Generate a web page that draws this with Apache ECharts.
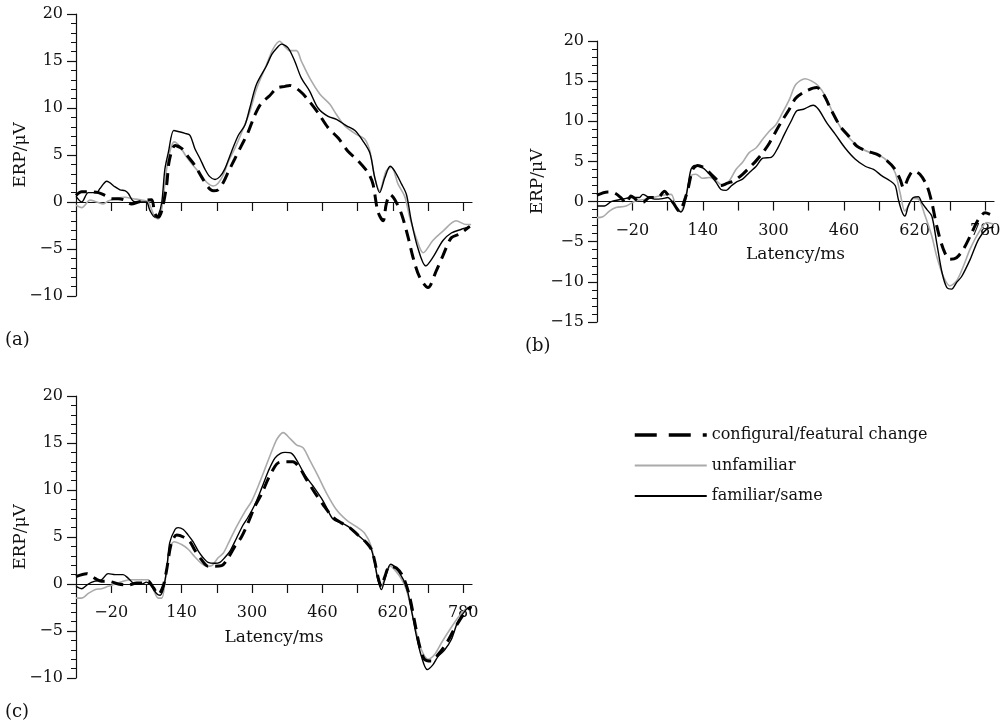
<!DOCTYPE html>
<html>
<head>
<meta charset="utf-8">
<script src="https://cdn.jsdelivr.net/npm/echarts@6/dist/echarts.min.js"></script>
<style>html,body{margin:0;padding:0;background:#fff;}#chart{width:1008px;height:725px;}</style>
</head>
<body>
<div id="chart"></div>
<script>
// ---- data: [latency ms, ERP µV] ----
const seriesNames = ['configural/featural change', 'unfamiliar', 'familiar/same'];
const xTickValues = [-20, 60, 140, 220, 300, 380, 460, 540, 620, 700, 780];
const xLabelValues = [-20, 140, 300, 460, 620, 780];

const aConfigural = [[-100,0.7],[-87,1.1],[-72,1.1],[-49,1.0],[-34,0.7],[-19,0.35],[-4,0.35],[11,0.2],[26,-0.2],[42,0],[60,0.2],[72,0.25],[79,-1.2],[87,-1.6],[95,-0.9],[106,1.8],[112,4.4],[125,6.0],[140,5.7],[155,4.8],[170,3.9],[185,2.7],[200,1.6],[212,1.2],[223,1.3],[235,2.1],[246,3.2],[261,4.6],[276,6.0],[291,7.4],[306,9.2],[321,10.5],[340,11.3],[356,12.1],[375,12.3],[386,12.4],[409,11.8],[427,10.9],[450,9.5],[473,7.9],[496,6.8],[518,5.4],[541,4.4],[564,3.1],[575,1.9],[586,-1.0],[598,-2.0],[605,-0.25],[614,0.8],[624,0.3],[640,-1.3],[655,-3.8],[666,-5.9],[681,-8.0],[700,-9.1],[719,-7.3],[734,-5.7],[753,-3.8],[772,-3.4],[795,-2.6]];
const aUnfamiliar = [[-100,-0.35],[-87,-0.6],[-68,0.2],[-53,0],[-38,-0.2],[-27,0.1],[-11,0.35],[11,0.5],[30,0.35],[49,0.2],[64,0],[79,-1.6],[87,-1.8],[95,-0.7],[106,3.5],[113,5.3],[123,6.4],[136,5.9],[151,4.8],[166,3.9],[182,3.0],[197,2.1],[212,1.7],[223,2.0],[235,2.9],[246,4.3],[261,5.7],[280,7.8],[295,9.6],[310,12.0],[333,14.6],[348,16.3],[363,17.1],[375,16.5],[385,16.1],[401,16.1],[412,15.0],[431,13.2],[454,11.5],[477,10.4],[492,9.3],[511,8.1],[537,7.2],[556,6.7],[568,5.4],[579,2.6],[590,1.2],[605,3.3],[617,3.7],[632,1.9],[647,0.6],[659,-1.7],[673,-3.8],[689,-5.4],[711,-4.1],[734,-3.1],[764,-2.0],[787,-2.4],[798,-2.4]];
const aFamiliar = [[-100,0.6],[-87,0.0],[-72,1.0],[-53,1.0],[-46,1.4],[-30,2.2],[-11,1.6],[0,1.3],[11,1.2],[19,0.9],[30,0.1],[49,0],[60,0],[68,-0.9],[79,-1.6],[87,-1.4],[95,0],[102,3.5],[110,5.3],[122,7.6],[132,7.5],[148,7.3],[159,7.1],[170,5.7],[182,4.6],[193,3.5],[204,2.7],[216,2.4],[227,2.7],[238,3.5],[253,5.3],[269,7.1],[284,8.2],[295,10.0],[310,12.5],[333,14.5],[345,15.7],[355,16.3],[367,16.8],[382,16.4],[397,15.0],[412,13.2],[431,11.8],[450,10.0],[473,9.1],[492,8.8],[515,8.1],[534,7.6],[552,6.5],[568,5.2],[579,2.6],[590,1.0],[602,2.6],[614,3.8],[624,3.3],[640,1.9],[651,0.8],[662,-2.0],[677,-4.9],[695,-6.8],[711,-5.9],[734,-4.1],[753,-3.3],[776,-2.9],[795,-2.6]];

const bConfigural = [[-100,0.8],[-76,1.2],[-61,1.1],[-46,0.5],[-34,-0.2],[-23,0.7],[-8,0.1],[4,-0.1],[19,0.5],[38,0.5],[53,1.3],[60,0.9],[72,-0.1],[87,-1.2],[98,0.1],[106,1.5],[117,4.0],[128,4.5],[143,4.2],[155,3.6],[170,2.8],[181,2.0],[196,2.3],[211,2.6],[230,3.4],[245,4.2],[261,5.1],[276,6.1],[291,7.3],[306,8.8],[321,10.2],[336,11.5],[351,12.9],[375,13.8],[398,14.2],[413,13.4],[432,11.3],[451,9.4],[470,8.2],[489,6.9],[511,6.3],[534,5.9],[557,5.1],[576,4.0],[587,2.8],[595,1.7],[606,3.0],[617,3.8],[632,3.4],[648,1.95],[659,-0.1],[670,-3.0],[685,-5.9],[700,-7.2],[715,-7.0],[731,-5.9],[746,-4.3],[765,-2.2],[780,-1.4],[791,-1.6]];
const bUnfamiliar = [[-100,-2.0],[-87,-1.9],[-72,-1.2],[-57,-0.75],[-34,-0.55],[-12,0.1],[11,0.3],[34,0.6],[49,0.8],[68,0.9],[83,-1.2],[90,-1.2],[102,0.9],[113,3.2],[124,3.4],[140,2.9],[155,3.0],[170,2.6],[185,2.0],[200,2.6],[215,4.0],[230,4.9],[245,6.1],[261,6.7],[276,7.8],[291,8.8],[306,9.6],[321,11.1],[336,12.7],[351,14.6],[372,15.3],[387,15.0],[402,14.4],[417,13.2],[436,10.9],[455,9.0],[474,7.8],[496,6.7],[519,6.1],[542,5.7],[561,4.9],[576,3.6],[587,1.1],[598,-1.2],[606,-0.5],[617,0.4],[629,0.3],[644,-1.8],[659,-4.3],[670,-6.8],[685,-9.3],[700,-10.5],[715,-9.9],[731,-8.0],[746,-5.9],[765,-3.9],[784,-2.6],[799,-2.8]];
const bFamiliar = [[-100,-0.55],[-83,-0.55],[-68,0],[-42,0.3],[-23,0.5],[-4,0.5],[4,0.9],[15,0.6],[30,0.3],[49,0.37],[60,0.5],[72,-0.1],[83,-0.95],[90,-1.3],[98,-0.5],[106,1.9],[113,4.0],[121,4.5],[140,4.2],[155,3.4],[170,2.4],[181,1.5],[193,1.4],[204,1.95],[215,2.4],[230,2.8],[245,3.6],[261,4.4],[276,5.4],[295,5.5],[310,6.7],[325,8.4],[340,10.0],[353,11.3],[368,11.5],[390,12.0],[402,11.5],[421,9.8],[440,8.4],[462,6.7],[485,5.3],[508,4.4],[527,4.0],[546,3.2],[564,2.6],[576,2.0],[583,0.3],[591,-1.2],[598,-1.8],[606,-0.5],[617,0.5],[629,0.6],[636,-0.1],[648,-1.0],[659,-1.8],[670,-5.1],[682,-8.8],[693,-10.7],[704,-10.9],[715,-10.1],[727,-9.3],[746,-7.2],[765,-4.7],[784,-3.4],[799,-3.2]];

const cConfigural = [[-100,0.8],[-76,1.1],[-57,0.6],[-42,0.3],[-27,0.3],[-4,0],[19,-0.1],[38,0.1],[57,0.1],[64,0.3],[76,-0.4],[87,-1.1],[98,-0.25],[106,1.5],[117,4.4],[129,5.2],[144,5.0],[159,4.5],[170,3.6],[185,2.6],[200,1.9],[216,1.9],[231,1.95],[246,2.8],[261,4.0],[276,5.0],[291,6.5],[306,8.2],[322,9.6],[337,11.2],[352,12.5],[360,12.9],[375,13.0],[393,13.0],[409,12.3],[424,11.1],[443,9.7],[462,8.4],[484,7.1],[503,6.5],[522,6.0],[541,5.2],[560,4.4],[571,3.7],[579,2.4],[586,0.8],[594,-0.25],[602,0.8],[613,1.9],[628,1.7],[643,0.8],[658,-1.3],[670,-4.1],[681,-6.6],[692,-8.0],[708,-8.2],[723,-7.5],[742,-6.3],[761,-4.7],[780,-3.3],[798,-2.4]];
const cUnfamiliar = [[-100,-1.5],[-87,-1.5],[-72,-1.0],[-57,-0.6],[-42,-0.5],[-27,-0.25],[-11,0],[7,0.3],[26,0.45],[49,0.45],[64,0.45],[76,-0.6],[87,-1.5],[95,-1.5],[102,0.1],[113,3.8],[123,4.5],[140,4.2],[155,3.7],[170,2.9],[185,2.2],[197,1.9],[208,1.95],[223,2.8],[235,3.3],[250,4.7],[265,6.1],[284,7.7],[299,8.8],[314,10.4],[329,12.2],[348,14.5],[358,15.5],[371,16.1],[386,15.5],[401,14.8],[416,14.5],[431,13.2],[450,11.5],[469,9.7],[492,7.9],[515,6.8],[537,6.1],[556,5.4],[571,4.0],[579,2.2],[586,0.5],[594,-0.25],[605,1.2],[615,1.9],[627,1.35],[640,0.5],[651,-0.6],[662,-2.7],[674,-5.2],[685,-7.0],[700,-8.0],[715,-7.5],[730,-6.3],[749,-4.9],[768,-3.6],[787,-2.6],[798,-2.4]];
const cFamiliar = [[-100,-0.25],[-87,-0.5],[-72,0],[-57,0.3],[-42,0.45],[-27,1.1],[-11,1.0],[7,1.0],[19,0.6],[34,0],[49,0],[60,0.2],[72,-0.25],[83,-1.0],[91,-1.2],[98,-0.6],[106,1.5],[113,4.4],[125,5.8],[132,6.0],[144,5.8],[155,5.2],[166,4.5],[178,3.5],[189,2.8],[200,2.3],[216,2.2],[227,2.3],[238,2.8],[250,3.5],[265,4.9],[280,6.3],[291,7.1],[306,8.4],[322,10.2],[337,12.0],[352,13.4],[365,13.9],[375,14.0],[390,13.9],[405,12.9],[420,11.6],[439,10.4],[462,8.8],[484,6.9],[503,6.5],[522,6.0],[541,5.2],[560,4.4],[571,3.7],[579,2.2],[586,0.5],[594,-0.6],[602,0.5],[615,2.1],[627,1.7],[640,0.8],[651,-0.25],[662,-2.7],[674,-5.6],[685,-7.7],[698,-9.1],[711,-8.6],[723,-7.7],[738,-7.0],[753,-5.9],[768,-4.0],[787,-2.7],[798,-2.4]];

// ---- chart ----
const FONT = '"DejaVu Serif", "Liberation Serif", serif';
const INK = '#111';
const YMAX = 20;
const fmtNum = v => (v < 0 ? '\u2212' + Math.abs(v) : String(v));

const panels = [
  {grid:{left:76, top:14, width:396, height:282}, ymin:-10, showX:false, nameY:47, data:[aConfigural, aUnfamiliar, aFamiliar]},
  {grid:{left:597, top:41, width:397, height:281}, ymin:-15, showX:true, nameY:51, data:[bConfigural, bUnfamiliar, bFamiliar]},
  {grid:{left:76, top:396, width:396, height:282}, ymin:-10, showX:true, nameY:47, data:[cConfigural, cUnfamiliar, cFamiliar]}
];

const styles = [
  {color:'#000', width:3, type:[12, 7]},
  {color:'#aaaaaa', width:1.6, type:'solid'},
  {color:'#000', width:1.4, type:'solid'}
];

const option = {
  animation: false,
  backgroundColor: '#fff',
  grid: panels.map(p => Object.assign({containLabel:false}, p.grid)),
  xAxis: panels.map((p, i) => ({
    type: 'value', gridIndex: i, min: -100, max: 800, position: 'bottom',
    // place the x axis on the zero line of the y axis
    offset: -p.grid.height * (0 - p.ymin) / (YMAX - p.ymin),
    name: p.showX ? 'Latency/ms' : '', nameLocation: 'middle', nameGap: 45, nameMoveOverlap: false,
    nameTextStyle: {fontFamily: FONT, fontSize: 17, color: INK},
    axisLine: {show: true, onZero: false, lineStyle: {color: INK, width: 1.2}},
    axisTick: {show: true, inside: false, length: 9, customValues: xTickValues, lineStyle: {color: INK, width: 1.2}},
    axisLabel: {show: p.showX, customValues: xLabelValues, margin: 21, fontFamily: FONT, fontSize: 16, color: INK, formatter: fmtNum},
    splitLine: {show: false}
  })),
  yAxis: panels.map((p, i) => ({
    type: 'value', gridIndex: i, min: p.ymin, max: YMAX, interval: 5,
    name: 'ERP/\u03bcV', nameLocation: 'middle', nameGap: p.nameY, nameRotate: 90, nameMoveOverlap: false,
    nameTextStyle: {fontFamily: FONT, fontSize: 17, color: INK},
    axisLine: {show: true, onZero: false, lineStyle: {color: INK, width: 1.2}},
    axisTick: {show: true, inside: false, length: 9, lineStyle: {color: INK, width: 1.2}},
    minorTick: {show: true, splitNumber: 5, length: 5, lineStyle: {color: INK, width: 1}},
    axisLabel: {margin: 13, fontFamily: FONT, fontSize: 16, color: INK, formatter: fmtNum},
    splitLine: {show: false}
  })),
  legend: {
    orient: 'vertical', left: 628, top: 422,
    itemWidth: 72, itemHeight: 12, itemGap: 14.5,
    itemStyle: {opacity: 0},
    textStyle: {fontFamily: FONT, fontSize: 16, color: INK},
    data: [
      {name: seriesNames[0], lineStyle: {type: [22, 12], width: 3.5, color: '#000'}},
      {name: seriesNames[1]},
      {name: seriesNames[2]}
    ]
  },
  graphic: [
    {type:'text', left: 5, top: 331, style:{text:'(a)', font:'18px ' + FONT, fill: INK}},
    {type:'text', left: 525, top: 337, style:{text:'(b)', font:'18px ' + FONT, fill: INK}},
    {type:'text', left: 5, top: 703, style:{text:'(c)', font:'18px ' + FONT, fill: INK}}
  ],
  series: []
};

panels.forEach((p, i) => {
  p.data.forEach((d, k) => {
    option.series.push({
      type: 'line', name: seriesNames[k], xAxisIndex: i, yAxisIndex: i,
      data: d, showSymbol: false, symbol: 'none', smooth: 0.3,
      z: k === 1 ? 2 : (k === 2 ? 3 : 4),
      lineStyle: {color: styles[k].color, width: styles[k].width, type: styles[k].type},
      itemStyle: {color: styles[k].color}
    });
  });
});

const chart = echarts.init(document.getElementById('chart'), null, {renderer: 'canvas'});
chart.setOption(option);
</script>
</body>
</html>
